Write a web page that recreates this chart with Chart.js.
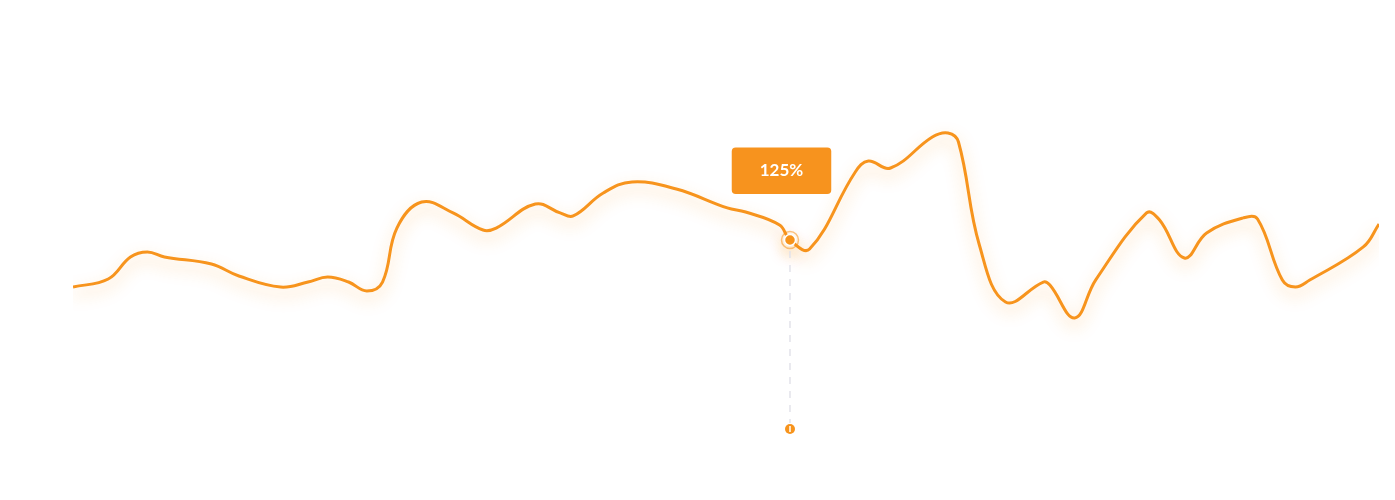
<!DOCTYPE html>
<html>
<head>
<meta charset="utf-8">
<script src="https://cdn.jsdelivr.net/npm/chart.js@4/dist/chart.umd.min.js"></script>
<style>
  html, body { margin: 0; padding: 0; background: #ffffff; }
  #wrap { width: 1395px; height: 500px; position: relative; }
</style>
</head>
<body>
<div id="wrap"><canvas id="c"></canvas></div>
<script>
// ---- data (time position in % of period, value in %) ----
const timePoints = [0, 2.7, 4.4, 5.7, 7.0, 10.6, 12.7, 15.9, 18.0, 19.5, 21.1, 22.5, 23.7, 24.8, 26.7, 29.1, 31.4, 32.4, 35.4, 37.3, 38.3, 40.6, 42.8, 46.2, 50.1, 51.5, 54.1, 54.9, 56.4, 59.9, 60.9, 62.6, 65.8, 67.0, 67.8, 69.4, 71.4, 74.3, 74.8, 76.7, 78.3, 82.2, 83.2, 85.1, 86.8, 89.6, 90.7, 92.6, 93.6, 94.7, 98.8, 100];
const values = [93.9, 99.2, 113.8, 117.1, 113.8, 109.1, 101.2, 93.9, 97.2, 100.5, 97.2, 91.3, 97.2, 132.9, 150.1, 142.9, 131.6, 132.9, 148.8, 142.9, 140.9, 156.1, 163.4, 158.7, 146.2, 143.5, 134.9, 125, 119.0, 170.0, 177.2, 172.6, 193.1, 195.8, 189.8, 121.7, 84.0, 97.2, 95.2, 73.4, 98.5, 142.9, 138.2, 113.1, 129.6, 139.6, 138.9, 98.5, 93.9, 98.5, 120.4, 135.6];
const activeIndex = 27;
const valueSuffix = '%';

const ORANGE = '#F7941D';

const glowPlugin = {
  id: 'glow',
  beforeDatasetDraw(chart) {
    const ctx = chart.ctx;
    ctx.save();
    ctx.shadowColor = 'rgba(247,148,29,0.42)';
    ctx.shadowBlur = 16;
    ctx.shadowOffsetX = 0;
    ctx.shadowOffsetY = 7;
  },
  afterDatasetDraw(chart) {
    chart.ctx.restore();
  }
};

const markerPlugin = {
  id: 'marker',
  afterDatasetsDraw(chart) {
    const ctx = chart.ctx;
    const el = chart.getDatasetMeta(0).data[activeIndex];
    if (!el) return;
    const x = el.x, y = el.y;
    const bottom = chart.chartArea.bottom;
    ctx.save();
    ctx.strokeStyle = '#e3e3ea';
    ctx.lineWidth = 1.5;
    ctx.setLineDash([7, 7]);
    ctx.beginPath();
    ctx.moveTo(x, y + 11);
    ctx.lineTo(x, bottom - 6);
    ctx.stroke();
    ctx.setLineDash([]);
    ctx.strokeStyle = 'rgba(247,148,29,0.55)';
    ctx.lineWidth = 1.5;
    ctx.beginPath();
    ctx.arc(x, y, 8.5, 0, Math.PI * 2);
    ctx.stroke();
    ctx.fillStyle = ORANGE;
    ctx.beginPath();
    ctx.arc(x, bottom, 5, 0, Math.PI * 2);
    ctx.fill();
    ctx.strokeStyle = '#ffffff';
    ctx.lineWidth = 1.5;
    ctx.beginPath();
    ctx.moveTo(x, bottom - 3);
    ctx.lineTo(x, bottom + 3);
    ctx.stroke();
    ctx.restore();
  }
};

Chart.Tooltip.positioners.aboveShift = function (items) {
  if (!items.length) return false;
  const el = items[0].element;
  return { x: el.x - 8.5, y: el.y - 46 };
};

const chart = new Chart(document.getElementById('c'), {
  type: 'line',
  data: {
    datasets: [{
      data: timePoints.map((t, i) => ({ x: t, y: values[i] })),
      borderColor: ORANGE,
      borderWidth: 3,
      tension: 0.4,
      fill: false,
      pointRadius: values.map((v, i) => i === activeIndex ? 5.5 : 0),
      pointBackgroundColor: ORANGE,
      pointBorderColor: '#ffffff',
      pointBorderWidth: 1.5,
      pointHoverRadius: values.map((v, i) => i === activeIndex ? 5.5 : 0),
      pointHoverBackgroundColor: ORANGE,
      pointHoverBorderColor: '#ffffff',
      pointHoverBorderWidth: 1.5
    }]
  },
  options: {
    responsive: true,
    maintainAspectRatio: false,
    animation: false,
    events: [],
    layout: { padding: { left: 73, right: 16, top: 51, bottom: 71 } },
    scales: {
      x: { type: 'linear', min: 0, max: 100, display: false },
      y: { min: 0, max: 250, display: false }
    },
    plugins: {
      legend: { display: false },
      tooltip: {
        enabled: true,
        animation: false,
        position: 'aboveShift',
        xAlign: 'center',
        yAlign: 'bottom',
        caretSize: 0,
        caretPadding: 0,
        backgroundColor: '#F7931E',
        cornerRadius: 4,
        displayColors: false,
        bodyColor: '#ffffff',
        bodyAlign: 'center',
        bodyFont: { family: 'Lato', weight: 'bold', size: 17, lineHeight: 1.2 },
        padding: { top: 13, bottom: 13, left: 28, right: 28 },
        callbacks: {
          title: () => '',
          label: (ctx) => ctx.parsed.y + valueSuffix
        }
      }
    }
  },
  plugins: [glowPlugin, markerPlugin]
});

chart.setActiveElements([{ datasetIndex: 0, index: activeIndex }]);
chart.tooltip.setActiveElements([{ datasetIndex: 0, index: activeIndex }], { x: 0, y: 0 });
chart.update('none');
</script>
</body>
</html>
